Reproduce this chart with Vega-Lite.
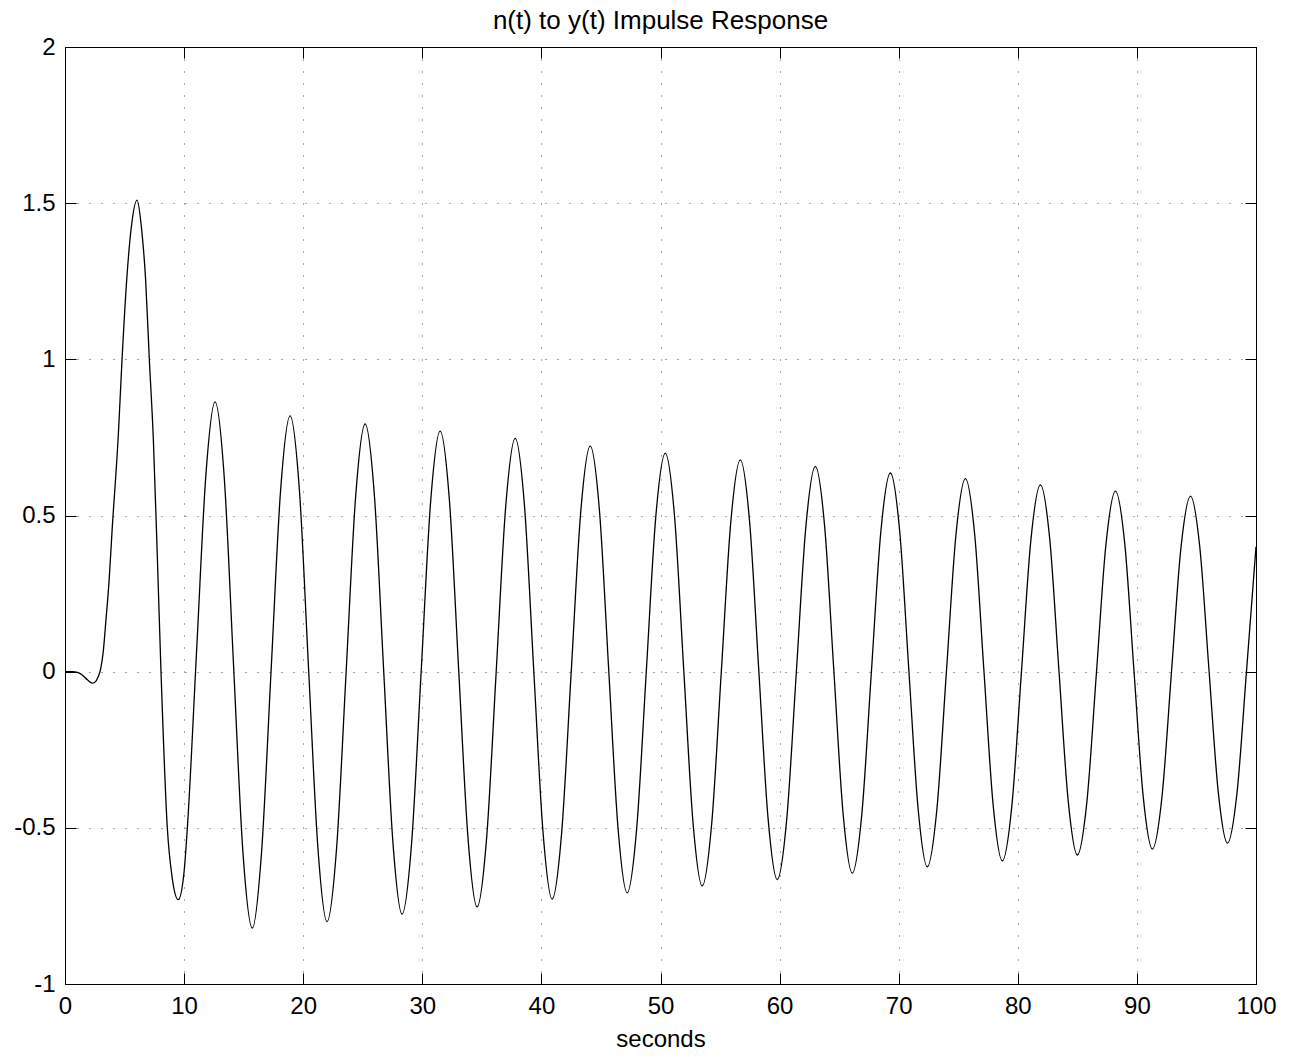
{
  "$schema": "https://vega.github.io/schema/vega-lite/v6.json",
  "width": 1191,
  "height": 937,
  "autosize": {"type": "none"},
  "padding": {"left": 65, "top": 47, "right": 38, "bottom": 73},
  "background": "white",
  "title": {"text": "n(t) to y(t) Impulse Response", "font": "Liberation Sans", "fontSize": 26, "fontWeight": "normal", "color": "black", "baseline": "alphabetic", "offset": -20, "anchor": "middle"},
  "data": {"values": [
    {"t":0,"v":0},{"t":0.6,"v":0},{"t":1.1,"v":-0.003},{"t":1.5,"v":-0.012},{"t":1.9,"v":-0.027},{"t":2.3,"v":-0.037},{"t":2.6,"v":-0.03},{"t":2.8,"v":-0.015},{"t":3.0,"v":0.01},{"t":3.2,"v":0.06},{"t":3.44,"v":0.166},{"t":3.7,"v":0.29},{"t":3.95,"v":0.45},{"t":4.48,"v":0.76},{"t":4.79,"v":1.0},{"t":5.18,"v":1.254},{"t":5.54,"v":1.414},{"t":6.05,"v":1.51},{"t":6.44,"v":1.414},{"t":6.77,"v":1.254},{"t":7.08,"v":1.0},{"t":7.42,"v":0.742},{"t":7.75,"v":0.37},{"t":8.06,"v":0},{"t":8.59,"v":-0.5},{"t":9.0,"v":-0.66},{"t":9.51,"v":-0.73},{"t":10.0,"v":-0.64},{"t":10.28,"v":-0.496},{"t":11.05,"v":0.067},{"t":11.83,"v":0.63},{"t":12.6,"v":0.864},
    {"t":13.38,"v":0.617},{"t":14.15,"v":0.022},{"t":14.93,"v":-0.573},{"t":15.73,"v":-0.821},{"t":16.5,"v":-0.58},{"t":17.3,"v":0.0},{"t":18.1,"v":0.579},{"t":18.9,"v":0.819},
    {"t":19.68,"v":0.582},{"t":20.45,"v":0.01},{"t":21.23,"v":-0.562},{"t":22.0,"v":-0.8},{"t":22.8,"v":-0.567},{"t":23.6,"v":-0.004},{"t":24.4,"v":0.559},{"t":25.2,"v":0.793},
    {"t":25.98,"v":0.563},{"t":26.75,"v":0.009},{"t":27.53,"v":-0.545},{"t":28.3,"v":-0.776},{"t":29.1,"v":-0.55},{"t":29.9,"v":-0.003},{"t":30.7,"v":0.544},{"t":31.5,"v":0.77},
    {"t":32.28,"v":0.547},{"t":33.05,"v":0.009},{"t":33.83,"v":-0.529},{"t":34.6,"v":-0.753},{"t":35.4,"v":-0.533},{"t":36.2,"v":-0.003},{"t":37.0,"v":0.527},{"t":37.8,"v":0.747},
    {"t":38.58,"v":0.531},{"t":39.35,"v":0.01},{"t":40.13,"v":-0.511},{"t":40.9,"v":-0.728},{"t":41.7,"v":-0.516},{"t":42.5,"v":-0.003},{"t":43.3,"v":0.51},{"t":44.1,"v":0.722},
    {"t":44.88,"v":0.513},{"t":45.65,"v":0.007},{"t":46.43,"v":-0.499},{"t":47.2,"v":-0.708},{"t":48.0,"v":-0.502},{"t":48.8,"v":-0.004},{"t":49.6,"v":0.494},{"t":50.4,"v":0.7},
    {"t":51.18,"v":0.497},{"t":51.95,"v":0.007},{"t":52.73,"v":-0.483},{"t":53.5,"v":-0.686},{"t":54.3,"v":-0.486},{"t":55.1,"v":-0.004},{"t":55.9,"v":0.478},{"t":56.7,"v":0.678},
    {"t":57.48,"v":0.481},{"t":58.25,"v":0.006},{"t":59.03,"v":-0.469},{"t":59.8,"v":-0.666},{"t":60.6,"v":-0.472},{"t":61.4,"v":-0.005},{"t":62.2,"v":0.462},{"t":63.0,"v":0.657},
    {"t":63.78,"v":0.466},{"t":64.55,"v":0.006},{"t":65.33,"v":-0.454},{"t":66.1,"v":-0.645},{"t":66.9,"v":-0.458},{"t":67.7,"v":-0.005},{"t":68.5,"v":0.448},{"t":69.3,"v":0.636},
    {"t":70.08,"v":0.451},{"t":70.85,"v":0.006},{"t":71.63,"v":-0.439},{"t":72.4,"v":-0.625},{"t":73.2,"v":-0.443},{"t":74.0,"v":-0.004},{"t":74.8,"v":0.435},{"t":75.6,"v":0.618},
    {"t":76.38,"v":0.439},{"t":77.15,"v":0.006},{"t":77.93,"v":-0.427},{"t":78.7,"v":-0.606},{"t":79.5,"v":-0.43},{"t":80.3,"v":-0.004},{"t":81.1,"v":0.422},{"t":81.9,"v":0.598},
    {"t":82.68,"v":0.425},{"t":83.45,"v":0.006},{"t":84.23,"v":-0.413},{"t":85.0,"v":-0.587},{"t":85.8,"v":-0.417},{"t":86.6,"v":-0.005},{"t":87.4,"v":0.407},{"t":88.2,"v":0.578},
    {"t":88.98,"v":0.41},{"t":89.75,"v":0.005},{"t":90.53,"v":-0.4},{"t":91.3,"v":-0.568},{"t":92.1,"v":-0.403},{"t":92.9,"v":-0.003},{"t":93.7,"v":0.397},{"t":94.5,"v":0.562},
    {"t":95.28,"v":0.399},{"t":96.05,"v":0.007},{"t":96.83,"v":-0.385},{"t":97.6,"v":-0.549},{"t":98.4,"v":-0.39},{"t":99.2,"v":0.0},{"t":100,"v":0.4}
  ]},
  "layer": [
    {
      "mark": {"type": "line", "color": "black", "strokeWidth": 1.3, "interpolate": "monotone", "clip": true},
      "encoding": {
        "x": {"field": "t", "type": "quantitative", "scale": {"domain": [0, 100], "nice": false, "zero": false},
          "axis": {"orient": "bottom", "title": "seconds", "values": [0,10,20,30,40,50,60,70,80,90,100], "grid": true, "labelPadding": 21, "titlePadding": 9}},
        "y": {"field": "v", "type": "quantitative", "scale": {"domain": [-1, 2], "nice": false, "zero": false},
          "axis": {"orient": "left", "title": null, "values": [-1,-0.5,0,0.5,1,1.5,2], "grid": true, "labelPadding": 21, "labelExpr": "'' + datum.value"}}
      }
    },
    {
      "mark": {"type": "line", "strokeOpacity": 0, "interpolate": "monotone"},
      "encoding": {
        "x": {"field": "t", "type": "quantitative", "scale": {"domain": [0, 100], "nice": false, "zero": false},
          "axis": {"orient": "top", "title": null, "values": [0,10,20,30,40,50,60,70,80,90,100], "grid": false, "labels": false}},
        "y": {"field": "v", "type": "quantitative", "scale": {"domain": [-1, 2], "nice": false, "zero": false},
          "axis": {"orient": "right", "title": null, "values": [-1,-0.5,0,0.5,1,1.5,2], "grid": false, "labels": false}}
      }
    }
  ],
  "resolve": {"axis": {"x": "independent", "y": "independent"}},
  "config": {
    "view": {"stroke": "black", "strokeWidth": 1},
    "axis": {
      "domainColor": "black", "domainWidth": 1,
      "tickColor": "black", "tickWidth": 1, "tickSize": -11,
      "gridColor": "black", "gridOpacity": 0.7, "gridWidth": 1, "gridDash": [1, 11],
      "labelFont": "Liberation Sans", "labelFontSize": 24, "labelColor": "black",
      "labelFlush": false, "labelOverlap": false,
      "titleFont": "Liberation Sans", "titleFontSize": 24, "titleFontWeight": "normal", "titleColor": "black"
    }
  }
}
